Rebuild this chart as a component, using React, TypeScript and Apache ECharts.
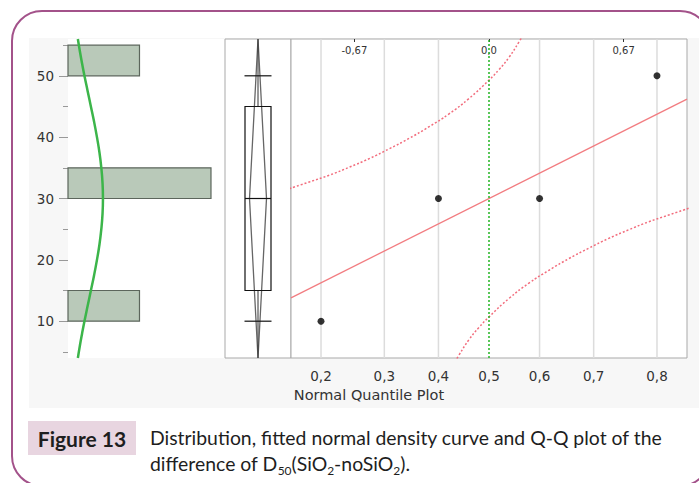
import React, { useEffect, useRef } from "react";
import * as echarts from "echarts";

// ---- data ----
const yTickValues = [10, 20, 30, 40, 50];
const yMinorTickValues = [5, 15, 25, 35, 45, 55];

const histBinStart = [10, 30, 50];
const histBinEnd = [15, 35, 55];
const histCount = [1, 2, 1];

const densityY = [4, 6, 8, 10, 12.5, 15, 17.5, 20, 22.5, 25, 27.5, 30, 32.5, 35, 37.5, 40, 42.5, 45, 47.5, 50, 52, 54, 56];
const densityX = [0.138, 0.166, 0.197, 0.23, 0.275, 0.32, 0.365, 0.405, 0.44, 0.466, 0.483, 0.489, 0.483, 0.466, 0.44, 0.405, 0.365, 0.32, 0.275, 0.23, 0.197, 0.166, 0.138];

const boxStats = [10, 15, 30, 45, 50]; // min, q1, median, q3, max
const meanDiamond = [4, 30, 56]; // lower CI, mean, upper CI

const qqZ = [-0.8416, -0.2533, 0.2533, 0.8416];
const qqValues = [10, 30, 30, 50];

const probLabels = ["0,2", "0,3", "0,4", "0,5", "0,6", "0,7", "0,8"];
const probQuantiles = [-0.8416, -0.5244, -0.2533, 0, 0.2533, 0.5244, 0.8416];
const topLabels = ["-0,67", "0,0", "0,67"];
const topQuantiles = [-0.6745, 0, 0.6745];

const fitZ = [-0.992, 0.992];
const fitValues = [13.8, 46.2];

const upperZ = [-1.0, -0.9, -0.8, -0.7, -0.6, -0.5, -0.4, -0.3, -0.2, -0.1, 0, 0.05, 0.1, 0.15, 0.18];
const upperValues = [31.6, 32.7, 33.8, 35.1, 36.5, 38.1, 39.8, 41.7, 43.8, 46.3, 49.3, 51.0, 53.0, 55.5, 57.2];
const lowerZ = [-0.18, -0.15, -0.1, -0.05, 0, 0.1, 0.2, 0.3, 0.4, 0.5, 0.6, 0.7, 0.8, 0.9, 1.0];
const lowerValues = [2.8, 4.5, 7.0, 9.0, 10.7, 13.7, 16.2, 18.3, 20.2, 21.9, 23.5, 24.9, 26.2, 27.3, 28.4];

const yMin = 4;
const yMax = 56;

function labelFor(v: number, values: number[], labels: string[]) {
  let best = 0;
  for (let i = 1; i < values.length; i++) {
    if (Math.abs(values[i] - v) < Math.abs(values[best] - v)) best = i;
  }
  return labels[best];
}

export default function App() {
  const ref = useRef<HTMLDivElement>(null);
  useEffect(() => {
    if (!ref.current) return;
    const chart = echarts.init(ref.current, null, { renderer: "svg" });
    const axisFont = "DejaVu Sans";
    const textColor = "#333";

    const option: any = {
      animation: false,
      backgroundColor: "#fff",
      grid: [
        { left: 68, top: 39, width: 157, height: 319, show: true, backgroundColor: "#fff", borderWidth: 0 },
        { left: 225, top: 39, width: 66, height: 319, show: true, backgroundColor: "#fff", borderColor: "#a9a9a9", borderWidth: 1 },
        { left: 291, top: 39, width: 396, height: 319, show: true, backgroundColor: "#fff", borderColor: "#a9a9a9", borderWidth: 1 },
      ],
      xAxis: [
        { gridIndex: 0, type: "value", min: 0, max: 2.196, show: false },
        { gridIndex: 1, type: "value", min: 0, max: 1, show: false },
        {
          gridIndex: 2, type: "value", min: -0.992, max: 0.992, position: "bottom",
          axisLine: { show: false }, axisTick: { show: false }, splitLine: { show: false },
          axisLabel: {
            customValues: probQuantiles,
            formatter: (v: number) => labelFor(v, probQuantiles, probLabels),
            fontSize: 13.5, fontFamily: axisFont, color: textColor, margin: 11,
          },
        },
        {
          gridIndex: 2, type: "value", min: -0.992, max: 0.992, position: "top",
          axisLine: { show: false }, splitLine: { show: false },
          axisTick: { show: true, inside: true, length: 3, customValues: topQuantiles, lineStyle: { color: "#333" } },
          axisLabel: {
            inside: true, customValues: topQuantiles,
            formatter: (v: number) => labelFor(v, topQuantiles, topLabels),
            fontSize: 10, fontFamily: axisFont, color: textColor, margin: 6,
          },
        },
      ],
      yAxis: [
        {
          gridIndex: 0, type: "value", min: yMin, max: yMax, position: "left",
          axisLine: { show: false }, splitLine: { show: false },
          axisTick: { show: true, length: 9, customValues: yTickValues, lineStyle: { color: "#999" } },
          axisLabel: { customValues: yTickValues, fontSize: 13.5, fontFamily: axisFont, color: textColor, margin: 14 },
        },
        {
          gridIndex: 0, type: "value", min: yMin, max: yMax, position: "left",
          axisLine: { show: false }, splitLine: { show: false },
          axisTick: { show: true, length: 5, customValues: yMinorTickValues, lineStyle: { color: "#999" } },
          axisLabel: { show: false },
        },
        { gridIndex: 1, type: "value", min: yMin, max: yMax, show: false },
        { gridIndex: 2, type: "value", min: yMin, max: yMax, show: false },
      ],
      series: [
        {
          type: "custom",
          xAxisIndex: 0, yAxisIndex: 0,
          data: histBinStart.map((s, i) => [s, histBinEnd[i], histCount[i]]),
          encode: { x: 2, y: [0, 1] },
          renderItem: (params: any, api: any) => {
            const s = api.value(0), e = api.value(1), c = api.value(2);
            const p0 = api.coord([0, e]);
            const p1 = api.coord([c, s]);
            return {
              type: "rect",
              shape: { x: p0[0], y: p0[1], width: p1[0] - p0[0], height: p1[1] - p0[1] },
              style: { fill: "#b9c9b9", stroke: "#5c665c", lineWidth: 1.2 },
            };
          },
        },
        {
          type: "line",
          xAxisIndex: 0, yAxisIndex: 0,
          data: densityX.map((d, i) => [d, densityY[i]]),
          smooth: true, showSymbol: false, symbol: "none",
          lineStyle: { color: "#3cb54a", width: 2.5 },
        },
        {
          type: "custom",
          xAxisIndex: 1, yAxisIndex: 2,
          data: [[0.5, ...boxStats, ...meanDiamond]],
          encode: { x: 0, y: [1, 2, 3, 4, 5] },
          renderItem: (params: any, api: any) => {
            const xc = api.value(0);
            const cx = api.coord([xc, yMin])[0];
            const y = (v: number) => api.coord([xc, v])[1];
            const mn = api.value(1), q1 = api.value(2), md = api.value(3), q3 = api.value(4), mx = api.value(5);
            const lo = api.value(6), mean = api.value(7), hi = api.value(8);
            const bw = 13, dw = 8.5, cw = 13.5;
            const black = { stroke: "#111", lineWidth: 1.2, fill: "none" };
            return {
              type: "group",
              children: [
                {
                  type: "polygon",
                  shape: { points: [[cx, y(hi)], [cx - dw, y(mean)], [cx, y(lo)], [cx + dw, y(mean)]] },
                  style: { stroke: "#666", lineWidth: 1.3, fill: "none" },
                },
                { type: "line", shape: { x1: cx, y1: y(hi), x2: cx, y2: y(q3) }, style: { stroke: "#333", lineWidth: 1 } },
                { type: "line", shape: { x1: cx, y1: y(q1), x2: cx, y2: y(lo) }, style: { stroke: "#333", lineWidth: 1 } },
                { type: "rect", shape: { x: cx - bw, y: y(q3), width: 2 * bw, height: y(q1) - y(q3) }, style: black },
                { type: "line", shape: { x1: cx - bw, y1: y(md), x2: cx + bw, y2: y(md) }, style: black },
                { type: "line", shape: { x1: cx - cw, y1: y(mx), x2: cx + cw, y2: y(mx) }, style: black },
                { type: "line", shape: { x1: cx - cw, y1: y(mn), x2: cx + cw, y2: y(mn) }, style: black },
              ],
            };
          },
        },
        {
          type: "custom",
          xAxisIndex: 2, yAxisIndex: 3,
          data: probQuantiles.filter((q) => q !== 0).map((q) => [q]),
          encode: { x: 0 },
          renderItem: (params: any, api: any) => {
            const q = api.value(0);
            const a = api.coord([q, yMax]);
            const b = api.coord([q, yMin]);
            return {
              type: "line",
              shape: { x1: a[0], y1: a[1], x2: b[0], y2: b[1] },
              style: { stroke: "#dcdcdc", lineWidth: 1.5 },
            };
          },
        },
        {
          type: "line",
          xAxisIndex: 2, yAxisIndex: 3,
          data: upperZ.map((z, i) => [z, upperValues[i]]),
          smooth: true, showSymbol: false, symbol: "none",
          lineStyle: { color: "#f26d7d", width: 1.5, type: [2, 2] },
        },
        {
          type: "line",
          xAxisIndex: 2, yAxisIndex: 3,
          data: lowerZ.map((z, i) => [z, lowerValues[i]]),
          smooth: true, showSymbol: false, symbol: "none",
          lineStyle: { color: "#f26d7d", width: 1.5, type: [2, 2] },
        },
        {
          type: "line",
          xAxisIndex: 2, yAxisIndex: 3,
          data: fitZ.map((z, i) => [z, fitValues[i]]),
          showSymbol: false, symbol: "none",
          lineStyle: { color: "#f27c80", width: 1.3 },
        },
        {
          type: "line",
          xAxisIndex: 2, yAxisIndex: 3,
          data: [[0, yMin], [0, yMax]],
          showSymbol: false, symbol: "none",
          lineStyle: { color: "#22b522", width: 1.5, type: [2, 2] },
        },
        {
          type: "scatter",
          xAxisIndex: 2, yAxisIndex: 3,
          data: qqZ.map((z, i) => [z, qqValues[i]]),
          symbol: "circle", symbolSize: 7,
          itemStyle: { color: "#000" },
        },
      ],
      graphic: [
        {
          type: "rect", z: -10,
          shape: { x: 29, y: 38, width: 670, height: 370 },
          style: { fill: "#f7f7f7" }, silent: true,
        },
        {
          type: "rect", z: -10,
          shape: { x: 12, y: 11, width: 698, height: 475, r: 30 },
          style: { fill: "none", stroke: "#a3528a", lineWidth: 2 }, silent: true,
        },
        {
          type: "text",
          style: {
            text: "Normal Quantile Plot", x: 369, y: 395, align: "center", verticalAlign: "middle",
            fontSize: 14.5, fontFamily: axisFont, fill: textColor,
          },
        },
        {
          type: "rect",
          shape: { x: 28, y: 421, width: 108, height: 34 },
          style: { fill: "#e8d5e0" },
        },
        {
          type: "text",
          style: {
            text: "Figure 13", x: 82, y: 438, align: "center", verticalAlign: "middle",
            fontSize: 21, fontWeight: "bold", fontFamily: "Lato", fill: "#1e1e1e",
          },
        },
        {
          type: "text",
          style: {
            text: "Distribution, fitted normal density curve and Q-Q plot of the\ndifference of D{s|50}(SiO{s|2}-noSiO{s|2}).",
            x: 150, y: 424, align: "left", verticalAlign: "top",
            fontSize: 19.4, lineHeight: 26, fontFamily: "Lato", fill: "#1e1e1e",
            rich: {
              s: { fontSize: 12, lineHeight: 10, verticalAlign: "bottom", fontFamily: "Lato", fill: "#1e1e1e" },
            },
          },
        },
      ],
    };

    chart.setOption(option);
    return () => chart.dispose();
  }, []);

  return (
    <div
      ref={ref}
      style={{ position: "absolute", left: 0, top: 0, width: 699, height: 483, background: "#fff" }}
    />
  );
}
